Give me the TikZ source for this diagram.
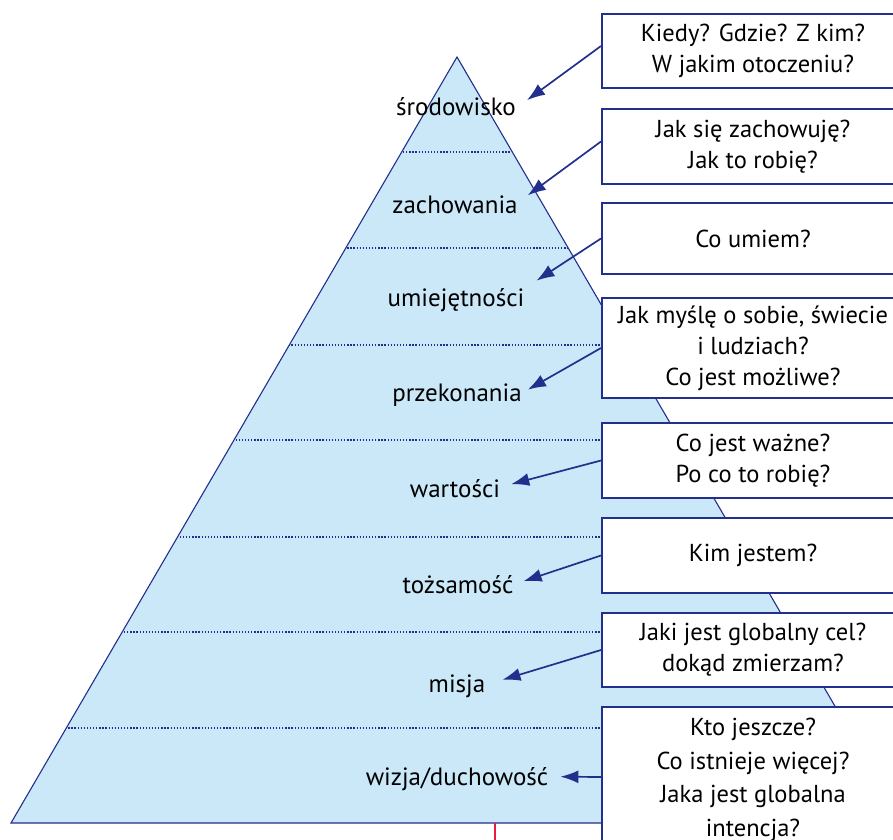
\documentclass[tikz,border=0pt]{standalone}
\usepackage{fontspec}
\setmainfont{PT Sans}
\usetikzlibrary{arrows.meta,calc}
\definecolor{edge}{RGB}{35,47,140}
\definecolor{pyr}{RGB}{202,232,248}
\definecolor{redline}{RGB}{228,30,60}

\begin{document}
\begin{tikzpicture}[x=1pt,y=-1pt,
  lbl/.style={font=\fontsize{25}{29}\selectfont, inner sep=0pt, anchor=base},
  qbox/.style={draw=edge, line width=2pt, fill=white, anchor=north west,
    minimum width=302, align=center, inner sep=0pt,
    font=\fontsize{24.5}{31}\selectfont},
  ptr/.style={draw=edge, line width=1.7pt, -{Latex[length=18pt,width=13pt]}}]

\useasboundingbox (0,0) rectangle (893,839);
\clip (0,0) rectangle (893,839);

% pyramid body
\coordinate (apex) at (457,57);
\coordinate (bl) at (11,823);
\coordinate (br) at (903,823);
\fill[pyr] (apex) -- (bl) -- (br) -- cycle;
\begin{scope}
  \clip (apex) -- (bl) -- (br) -- cycle;
  \foreach \y in {152,248,345,440,537,632,728}
    \draw[edge, line width=1.4pt, dash pattern=on 1.3pt off 1.8pt] (0,\y) -- (910,\y);
\end{scope}
\draw[edge, line width=1.1pt, line join=miter] (apex) -- (bl) -- (br) -- cycle;
\draw[redline, line width=1.1pt] (495,823) -- (495,845);

% level names
\node[lbl] (l1) at (456,115) {środowisko};
\node[lbl] (l2) at (455,213) {zachowania};
\node[lbl] (l3) at (456,306) {umiejętności};
\node[lbl] (l4) at (457,401) {przekonania};
\node[lbl] (l5) at (455,497) {wartości};
\node[lbl] (l6) at (458,593) {tożsamość};
\node[lbl] (l7) at (457,692) {misja};
\node[lbl] (l8) at (457,785) {wizja/duchowość};

% question boxes
\node[qbox, minimum height=74] (b1) at (601,13) {Kiedy? Gdzie? Z kim?\\W jakim otoczeniu?};
\node[qbox, minimum height=75] (b2) at (601,108) {Jak się zachowuję?\\Jak to robię?};
\node[qbox, minimum height=71] (b3) at (601,202) {Co umiem?};
\node[qbox, minimum height=100] (b4) at (601,297) {Jak myślę o sobie, świecie\\i ludziach?\\Co jest możliwe?};
\node[qbox, minimum height=75] (b5) at (601,422) {Co jest ważne?\\Po co to robię?};
\node[qbox, minimum height=75] (b6) at (601,517) {Kim jestem?};
\node[qbox, minimum height=74] (b7) at (601,612) {Jaki jest globalny cel?\\dokąd zmierzam?};
\node[qbox, minimum height=146, font=\fontsize{24.5}{33.5}\selectfont] (b8) at (601,706)
  {Kto jeszcze?\\Co istnieje więcej?\\Jaka jest globalna\\intencja?};

% pointers from questions to levels
\draw[ptr] ($(b1.west)+(0,-5)$) -- ($(l1.east)+(11,-6)$);
\draw[ptr] ($(b2.west)+(0,-5)$) -- ($(l2.east)+(10,-9)$);
\draw[ptr] (b3.west) -- ($(l3.east)+(12,-19)$);
\draw[ptr] (b4.west) -- ($(l4.east)+(6,-5)$);
\draw[ptr] (b5.west) -- ($(l5.east)+(11,-4)$);
\draw[ptr] (b6.west) -- ($(l6.east)+(10,-3)$);
\draw[ptr] (b7.west) -- ($(l7.east)+(17,-6)$);
\draw[ptr] ($(b8.west)+(0,-3)$) -- ($(l8.east)+(12,-2)$);
\end{tikzpicture}
\end{document}
